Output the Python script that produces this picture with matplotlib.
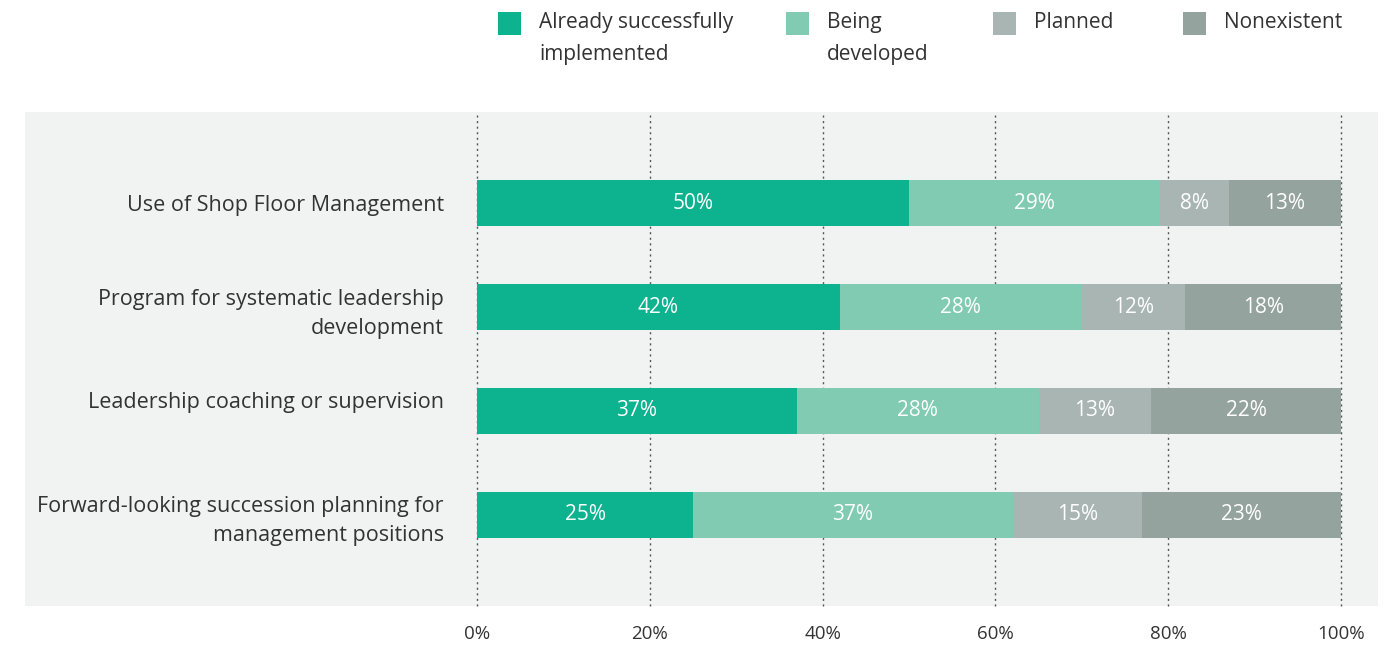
import matplotlib.pyplot as plt
from matplotlib.patches import Rectangle
import numpy as np

plt.rcParams['font.family'] = ['Open Sans', 'DejaVu Sans']

categories = [
    "Use of Shop Floor Management",
    "Program for systematic leadership\ndevelopment",
    "Leadership coaching or supervision\n ",
    "Forward-looking succession planning for\nmanagement positions",
]
series = ["Already successfully\nimplemented", "Being\ndeveloped", "Planned", "Nonexistent"]
implemented = [50, 42, 37, 25]
developing = [29, 28, 28, 37]
planned = [8, 12, 13, 15]
nonexistent = [13, 18, 22, 23]
ticks = [0, 20, 40, 60, 80, 100]

colors = ["#0db28f", "#80cbb2", "#a9b5b3", "#95a39f"]
text_color = "#333333"
W, H = 1385, 646

fig = plt.figure(figsize=(W / 100, H / 100), dpi=100)

# grey panel behind labels and bars
fig.patches.append(Rectangle((25 / W, 1 - 606 / H), (1378 - 25) / W, (606 - 112) / H,
                             transform=fig.transFigure, facecolor="#f1f3f2",
                             edgecolor="none", zorder=-10))

ax = fig.add_axes([477 / W, 1 - 606 / H, (1341 - 477) / W, (606 - 112) / H])
ax.set_facecolor("none")
ax.set_zorder(1)

y = np.arange(len(categories))
left = np.zeros(len(categories))
for vals, col in zip([implemented, developing, planned, nonexistent], colors):
    bars = ax.barh(y, vals, left=left, height=0.44, color=col, zorder=2)
    for b, v in zip(bars, vals):
        ax.text(b.get_x() + b.get_width() / 2, b.get_y() + b.get_height() / 2,
                f"{v}%", ha="center", va="center", color="white", fontsize=15, zorder=3)
    left += np.array(vals)

for t in ticks:
    ax.axvline(t, color="#555555", linestyle=(0, (1.5, 2.5)), linewidth=1,
               zorder=1, clip_on=False)

ax.set_xlim(0, 100)
ax.set_ylim(3.88, -0.88)
ax.set_xticks(ticks)
ax.set_xticklabels([f"{t}%" for t in ticks], fontsize=13.5, color=text_color)
ax.tick_params(axis="x", length=0, pad=14)
ax.set_yticks(y)
ax.set_yticklabels(categories, fontsize=15.5, color=text_color, linespacing=1.5)
ax.tick_params(axis="y", length=0, pad=24)
for s in ax.spines.values():
    s.set_visible(False)

# legend row along the top
legend_x = [498, 786, 993, 1183]
for lx, name, col in zip(legend_x, series, colors):
    fig.patches.append(Rectangle((lx / W, 1 - 35 / H), 23 / W, 23 / H,
                                 transform=fig.transFigure, facecolor=col,
                                 edgecolor="none"))
    fig.text((lx + 41) / W, 1 - 12 / H, name, ha="left", va="top", fontsize=15,
             color=text_color, linespacing=1.7)

fig.savefig("out.png", dpi=100)
